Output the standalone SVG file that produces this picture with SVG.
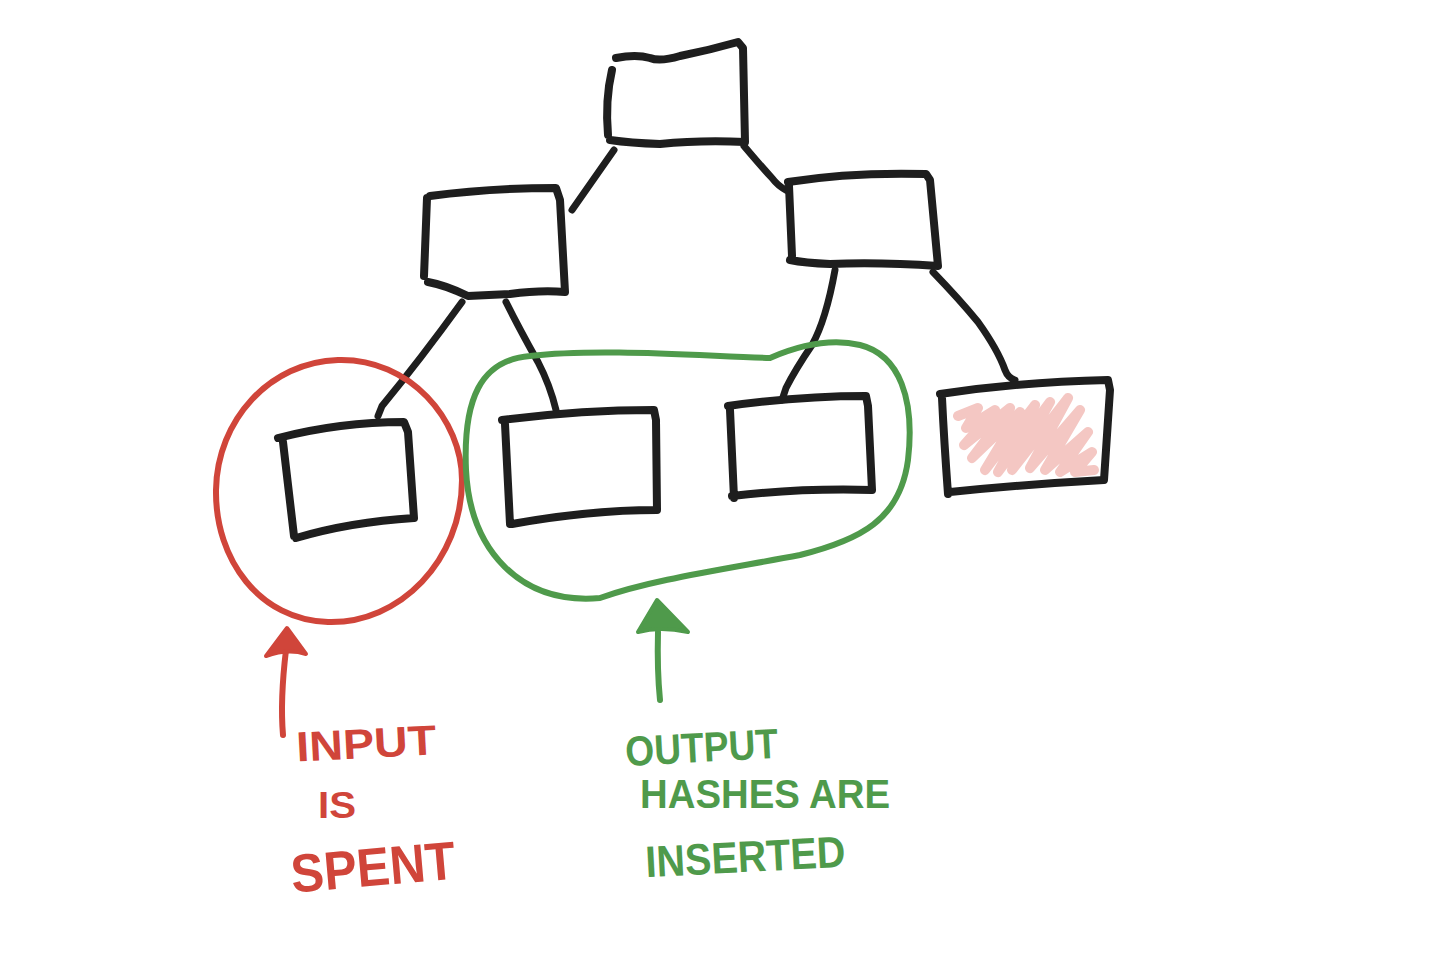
<svg xmlns="http://www.w3.org/2000/svg" width="1442" height="960" viewBox="0 0 1442 960">
<style>
.box{fill:none;stroke:#1e1e1e;stroke-width:8;stroke-linecap:round;stroke-linejoin:round}
.edge{fill:none;stroke:#1e1e1e;stroke-width:7;stroke-linecap:round;stroke-linejoin:round}
.red{fill:none;stroke:#d0453a;stroke-width:6;stroke-linecap:round;stroke-linejoin:round}
.green{fill:none;stroke:#4f9a4b;stroke-width:6;stroke-linecap:round;stroke-linejoin:round}
.rt{font-family:"Liberation Sans",Arial,sans-serif;font-weight:bold;fill:#d0453a}
.gt{font-family:"Liberation Sans",Arial,sans-serif;font-weight:bold;fill:#4f9a4b}
</style>
<rect width="1442" height="960" fill="#ffffff"/>
<g id="connectors">
<path class="edge" d="M614 150 L572 210"/>
<path class="edge" d="M744 146 Q760 165 772 178 Q778 186 786 190"/>
<path class="edge" d="M462 302 Q420 360 382 406 L378 416"/>
<path class="edge" d="M506 302 Q520 330 538 362 Q550 385 556 410"/>
<path class="edge" d="M835 270 Q826 320 812 345 Q795 370 786 388 L782 400"/>
<path class="edge" d="M933 272 Q960 300 978 322 Q998 350 1005 370 Q1008 378 1015 380"/>
</g>
<g id="root">
<path class="box" d="M616 58 Q636 54 650 58 Q660 62 680 56 Q710 50 738 42 L743 48 L745 142 Q700 140 660 144 Q630 143 610 140 M612 70 Q605 100 608 135"/>
</g>
<g id="mid-left">
<path class="box" d="M430 196 Q490 188 556 188 L560 200 L565 292 Q540 290 510 294 L468 296 Q445 285 428 282 M427 198 L424 276"/>
</g>
<g id="mid-right">
<path class="box" d="M788 182 Q850 172 926 174 L930 180 L938 266 Q880 262 830 264 Q805 263 790 260 M789 186 L792 256"/>
</g>
<g id="leaf-spent">
<path class="box" d="M278 438 Q340 422 404 422 L408 432 L414 518 Q350 522 296 538 M283 442 L294 536"/>
</g>
<g id="leaf-out1">
<path class="box" d="M502 420 Q580 410 654 410 L656 420 L657 510 Q590 510 512 524 M505 424 L510 524"/>
</g>
<g id="leaf-out2">
<path class="box" d="M728 406 Q800 396 866 396 L868 406 L872 490 Q800 488 732 496 M730 410 L734 498"/>
</g>
<g id="leaf-empty">
<path d="M958 416 L978 408 L966 428 L995 410 L964 445 L1010 408 L972 458 L1020 412 L985 470 L1035 405 L998 472 L1050 402 L1012 470 L1068 398 L1030 468 L1080 410 L1045 470 L1088 432 L1060 472 L1092 452 L1075 472 L1094 470" fill="none" stroke="#f4c7c3" stroke-width="10" stroke-linecap="round" stroke-linejoin="round"/>
<path class="box" d="M940 394 Q1020 382 1108 380 L1110 390 L1104 480 Q1030 484 950 492 M942 398 Q944 440 948 494"/>
</g>
<g id="spent-group">
<path class="red" d="M338 360 C410 358 462 420 462 480 C462 560 400 624 328 622 C260 620 215 560 216 490 C217 420 270 362 338 360 Z"/>
<path class="red" d="M283 735 Q280 700 286 650"/>
<path d="M266 656 L287 628 L306 654 Q288 648 266 656 Z" fill="#d0453a" stroke="#d0453a" stroke-width="4" stroke-linejoin="round"/>
<text class="rt" x="296" y="758" font-size="42" textLength="140" lengthAdjust="spacingAndGlyphs" transform="rotate(-3 365 740)">INPUT</text>
<text class="rt" x="318" y="818" font-size="36" textLength="38" lengthAdjust="spacingAndGlyphs">IS</text>
<text class="rt" x="290" y="886" font-size="54" textLength="165" lengthAdjust="spacingAndGlyphs" transform="rotate(-5 370 860)">SPENT</text>
</g>
<g id="inserted-group">
<path class="green" d="M530 356 C600 348 700 356 770 358 C800 345 830 338 860 345 C900 355 915 400 908 460 C900 520 860 540 800 555 C720 570 650 580 600 598 C520 605 470 550 466 470 C463 400 480 360 530 356 Z"/>
<path class="green" d="M660 700 Q657 670 658 632"/>
<path d="M638 632 L657 600 L688 632 Q660 626 638 632 Z" fill="#4f9a4b" stroke="#4f9a4b" stroke-width="4" stroke-linejoin="round"/>
<text class="gt" x="625" y="762" font-size="42" textLength="153" lengthAdjust="spacingAndGlyphs" transform="rotate(-3 700 745)">OUTPUT</text>
<text class="gt" x="640" y="808" font-size="40" textLength="250" lengthAdjust="spacingAndGlyphs">HASHES ARE</text>
<text class="gt" x="645" y="872" font-size="44" textLength="200" lengthAdjust="spacingAndGlyphs" transform="rotate(-3 745 850)">INSERTED</text>
</g>
</svg>
